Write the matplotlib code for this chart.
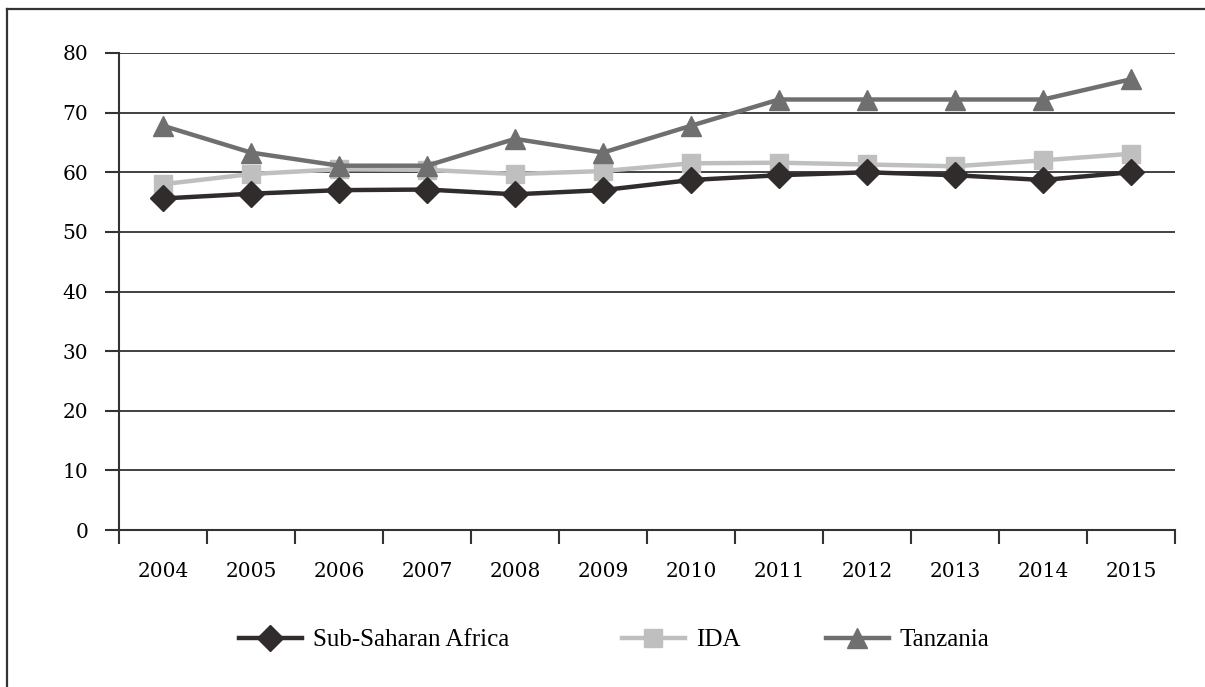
import matplotlib.pyplot as plt
from matplotlib.lines import Line2D

years = ["2004", "2005", "2006", "2007", "2008", "2009",
         "2010", "2011", "2012", "2013", "2014", "2015"]
ssa = [55.6, 56.4, 57.0, 57.1, 56.3, 57.0, 58.7, 59.5, 60.0, 59.5, 58.7, 60.0]
ida = [58.0, 59.7, 60.5, 60.4, 59.7, 60.2, 61.5, 61.6, 61.3, 61.0, 62.0, 63.1]
tanzania = [67.8, 63.3, 61.1, 61.1, 65.6, 63.3, 67.8, 72.2, 72.2, 72.2, 72.2, 75.6]
yticks = [0, 10, 20, 30, 40, 50, 60, 70, 80]

plt.rcParams['font.family'] = ['DejaVu Serif']

fig = plt.figure(figsize=(12.05, 6.87), dpi=100)
ax = fig.add_axes([119/1205, 157/687, 1056/1205, 477/687])

x = list(range(len(years)))
l1, = ax.plot(x, ssa, color="#302c2c", lw=3.2, marker="D", ms=13, zorder=4)
l2, = ax.plot(x, ida, color="#bfbfbf", lw=3.2, marker="s", ms=13, zorder=3)
l3, = ax.plot(x, tanzania, color="#6f6f6f", lw=3.2, marker="^", ms=14, zorder=5)

ax.set_xlim(-0.5, len(years) - 0.5)
ax.set_ylim(0, 80)
ax.set_yticks(yticks)
ax.set_yticklabels([str(v) for v in yticks])
ax.set_xticks([i - 0.5 for i in range(len(years) + 1)])
ax.set_xticklabels([])
ax.set_xticks(x, minor=True)
ax.set_xticklabels(years, minor=True)
ax.tick_params(axis="x", which="minor", length=0, pad=23, labelsize=14.5)
ax.tick_params(axis="x", which="major", length=10, width=1.5, color="#333333", direction="out")
ax.tick_params(axis="y", length=10, width=1.5, color="#333333", pad=12, labelsize=14.5)

ax.grid(axis="y", color="#333333", lw=1.3, zorder=0)
for side in ["top", "right"]:
    ax.spines[side].set_visible(False)
for side in ["left", "bottom"]:
    ax.spines[side].set_color("#333333")
    ax.spines[side].set_linewidth(1.5)

# one legend box per series so each entry sits at its own spot
entries = [(l1, "Sub-Saharan Africa", 239), (l2, "IDA", 622), (l3, "Tanzania", 826)]
for handle, name, xpos in entries:
    fig.legend([handle], [name], loc="center left", bbox_to_anchor=(xpos/1205, 1 - 640/687),
               frameon=False, borderpad=0, borderaxespad=0, handlelength=2.5,
               handletextpad=0.45, prop={"family": "Liberation Serif", "size": 18})

# outer frame, only the left and top edges fall inside the image
fig.add_artist(Line2D([7/1205, 7/1205], [0, 1 - 9/687], color="#333333", lw=1.6))
fig.add_artist(Line2D([7/1205, 1], [1 - 9/687, 1 - 9/687], color="#333333", lw=1.6))

fig.savefig("out.png", dpi=100)
